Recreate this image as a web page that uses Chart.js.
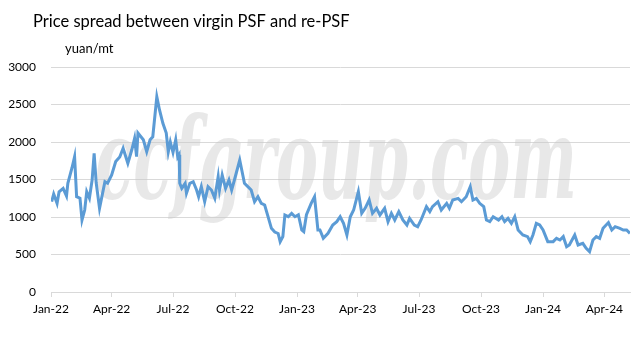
<!DOCTYPE html>
<html>
<head>
<meta charset="utf-8">
<script src="https://cdn.jsdelivr.net/npm/chart.js@4"></script>
<style>
html,body{margin:0;padding:0;background:#fff;}
#wrap{position:relative;width:643px;height:341px;}
canvas{display:block;}
</style>
</head>
<body>
<div id="wrap"><canvas id="c" width="643" height="341"></canvas></div>
<script>
const titleText = 'Price spread between virgin PSF and re-PSF';
const unitText = 'yuan/mt';
const watermarkText = 'ccfgroup.com';

const dates = [
'2022-01-02','2022-01-05','2022-01-10','2022-01-13','2022-01-19','2022-01-24','2022-01-26','2022-02-01','2022-02-05','2022-02-08',
'2022-02-13','2022-02-16','2022-02-20','2022-02-23','2022-02-27','2022-03-03','2022-03-06','2022-03-09','2022-03-14','2022-03-22',
'2022-03-26','2022-04-01','2022-04-07','2022-04-13','2022-04-18','2022-04-25','2022-05-01','2022-05-05','2022-05-08','2022-05-10',
'2022-05-18','2022-05-23','2022-05-28','2022-06-01','2022-06-07','2022-06-11','2022-06-16','2022-06-21','2022-06-24','2022-06-27',
'2022-07-01','2022-07-05','2022-07-08','2022-07-10','2022-07-11','2022-07-14','2022-07-19','2022-07-21','2022-07-26','2022-07-31',
'2022-08-05','2022-08-08','2022-08-12','2022-08-17','2022-08-22','2022-08-27','2022-09-01','2022-09-06','2022-09-08','2022-09-12',
'2022-09-17','2022-09-22','2022-09-26','2022-09-30','2022-10-08','2022-10-15','2022-10-20','2022-10-25','2022-10-30','2022-11-04',
'2022-11-09','2022-11-14','2022-11-19','2022-11-24','2022-11-29','2022-12-04','2022-12-07','2022-12-11','2022-12-14','2022-12-19',
'2022-12-24','2022-12-29','2023-01-03','2023-01-08','2023-01-11','2023-01-15','2023-01-22','2023-01-27','2023-02-01','2023-02-04',
'2023-02-09','2023-02-16','2023-02-23','2023-03-01','2023-03-06','2023-03-11','2023-03-16','2023-03-21','2023-03-26','2023-04-02',
'2023-04-07','2023-04-12','2023-04-18','2023-04-23','2023-04-29','2023-05-04','2023-05-11','2023-05-16','2023-05-21','2023-05-26',
'2023-06-01','2023-06-07','2023-06-13','2023-06-17','2023-06-24','2023-06-29','2023-07-04','2023-07-12','2023-07-17','2023-07-21',
'2023-07-29','2023-08-03','2023-08-11','2023-08-15','2023-08-20','2023-08-28','2023-09-02','2023-09-09','2023-09-15','2023-09-19',
'2023-09-24','2023-09-29','2023-10-05','2023-10-09','2023-10-14','2023-10-19','2023-10-27','2023-11-01','2023-11-05','2023-11-10',
'2023-11-15','2023-11-20','2023-11-25','2023-12-02','2023-12-09','2023-12-13','2023-12-17','2023-12-22','2023-12-27','2024-01-01',
'2024-01-08','2024-01-16','2024-01-21','2024-01-26','2024-01-31','2024-02-05','2024-02-09','2024-02-17','2024-02-22','2024-02-29',
'2024-03-05','2024-03-10','2024-03-15','2024-03-20','2024-03-25','2024-03-30','2024-04-07','2024-04-12','2024-04-17','2024-04-24',
'2024-04-29','2024-05-04','2024-05-09'
];

const spread = [
1204,1307,1182,1337,1382,1280,1449,1650,1804,1271,
1250,960,1093,1337,1250,1493,1849,1460,1116,1471,
1450,1560,1740,1800,1916,1716,1900,2049,1804,2120,
2030,1870,2030,2070,2604,2427,2249,2120,1870,2000,
1860,2030,1800,1830,1449,1382,1449,1316,1449,1470,
1360,1270,1405,1204,1405,1360,1250,1538,1360,1560,
1382,1493,1360,1490,1760,1449,1405,1360,1204,1270,
1182,1160,1004,849,800,780,671,740,1027,1004,
1049,1004,1030,827,805,1030,1182,1270,827,827,
716,782,893,938,1004,915,760,1004,1093,1338,
1049,1116,1227,1049,1116,1027,1116,938,1049,960,
1071,960,893,982,893,871,960,1138,1071,1138,
1204,1093,1182,1116,1227,1249,1204,1270,1404,1227,
1249,1182,1138,960,938,1004,960,1004,938,982,
915,1004,827,760,738,671,760,915,893,827,
671,671,716,693,738,604,627,760,627,649,
582,538,693,738,716,849,926,827,871,849,
827,827,782
];

const tickLabels = ['Jan-22','Apr-22','Jul-22','Oct-22','Jan-23','Apr-23','Jul-23','Oct-23','Jan-24','Apr-24'];
const yTicks = [0, 500, 1000, 1500, 2000, 2500, 3000];

const DAY = 86400000;
const months = ['Jan','Feb','Mar','Apr','May','Jun','Jul','Aug','Sep','Oct','Nov','Dec'];
function dayNum(str){ return Date.parse(str + 'T00:00:00Z') / DAY; }
function labelDay(lbl){
  const [m, y] = lbl.split('-');
  return Date.UTC(2000 + parseInt(y, 10), months.indexOf(m), 1) / DAY;
}
const tickDays = tickLabels.map(labelDay);
const points = dates.map((d, i) => ({x: dayNum(d), y: spread[i]}));

const FONT = "Lato, 'Open Sans', sans-serif";

const decor = {
  id: 'decor',
  beforeDatasetsDraw(chart){
    const ctx = chart.ctx;
    ctx.save();
    ctx.font = "italic bold 112px 'DejaVu Serif', serif";
    const w = ctx.measureText(watermarkText).width;
    const target = 482;
    ctx.translate(95, 198);
    ctx.scale(target / w, 1);
    ctx.fillStyle = 'rgba(200,200,200,0.42)';
    ctx.textBaseline = 'alphabetic';
    ctx.fillText(watermarkText, 0, 0);
    ctx.restore();
  },
  afterDraw(chart){
    const ctx = chart.ctx;
    ctx.save();
    ctx.fillStyle = '#000';
    ctx.textBaseline = 'alphabetic';
    ctx.font = '16.5px ' + FONT;
    ctx.fillText(titleText, 33, 27);
    ctx.font = '13px ' + FONT;
    ctx.fillText(unitText, 65, 53);
    ctx.restore();
  }
};

new Chart(document.getElementById('c'), {
  type: 'line',
  data: {
    datasets: [{
      data: points,
      borderColor: '#5B9BD5',
      borderWidth: 3,
      pointRadius: 0,
      tension: 0,
      fill: false
    }]
  },
  options: {
    responsive: false,
    animation: false,
    layout: { padding: { top: 67, right: 13, left: 0, bottom: 0 } },
    plugins: { legend: { display: false }, tooltip: { enabled: false }, title: { display: false } },
    scales: {
      x: {
        type: 'linear',
        min: labelDay('Jan-22'),
        max: points[points.length - 1].x,
        afterBuildTicks(scale){ scale.ticks = tickDays.map(v => ({ value: v })); },
        afterFit(scale){ scale.height = 49; },
        ticks: {
          autoSkip: false,
          maxRotation: 0,
          padding: 5,
          color: '#000',
          font: { family: FONT, size: 12 },
          callback(v){ const i = tickDays.indexOf(v); return i >= 0 ? tickLabels[i] : ''; }
        },
        grid: { drawOnChartArea: false, drawTicks: true, tickLength: 5, color: '#d9d9d9' },
        border: { display: true, color: '#d9d9d9', width: 1 }
      },
      y: {
        min: 0,
        max: 3000,
        afterBuildTicks(scale){ scale.ticks = yTicks.map(v => ({ value: v })); },
        afterFit(scale){ scale.width = 51; },
        ticks: { padding: 15, color: '#000', font: { family: FONT, size: 12 }, callback(v){ return String(v); } },
        grid: { color: '#d9d9d9', drawTicks: false },
        border: { display: false }
      }
    }
  },
  plugins: [decor]
});
</script>
</body>
</html>
